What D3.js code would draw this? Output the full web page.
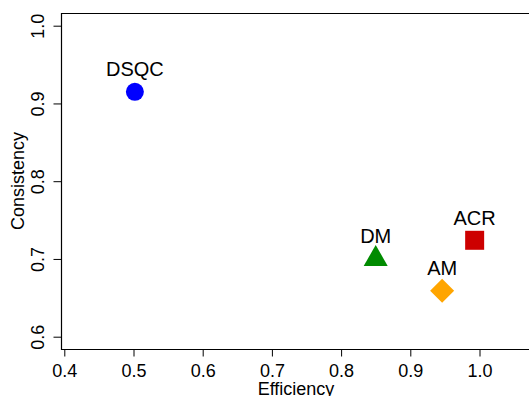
<!DOCTYPE html>
<html>
<head>
<meta charset="utf-8">
<script src="https://cdn.jsdelivr.net/npm/d3@7"></script>
<style>
  body { margin: 0; background: #fff; }
  svg { display: block; font-family: "Liberation Sans", Arial, Helvetica, sans-serif; }
</style>
</head>
<body>
<div id="chart"></div>
<script>
// values
const methods = ["DSQC", "DM", "AM", "ACR"];
const efficiency = [0.502, 0.85, 0.946, 0.993];
const consistency = [0.915, 0.70, 0.659, 0.724];
const colors = ["#0000ff", "#008b00", "#ffa500", "#cd0000"];
const shapes = ["circle", "triangle", "diamond", "square"];
const xTicks = [0.4, 0.5, 0.6, 0.7, 0.8, 0.9, 1.0];
const yTicks = [0.6, 0.7, 0.8, 0.9, 1.0];

const points = methods.map((m, i) => ({
    name: m, x: efficiency[i], y: consistency[i], color: colors[i], shape: shapes[i]
}));

const width = 529, height = 396;
const frame = { left: 61, top: 13, bottom: 349 };

const svg = d3.select("#chart")
    .append("svg")
    .attr("width", width)
    .attr("height", height);

const xScale = d3.scaleLinear().domain([0.4, 1.0]).range([64.3, 479.5]);
const yScale = d3.scaleLinear().domain([0.6, 1.0]).range([336.7, 25.7]);

// plot box (open on the right, it runs off the page)
svg.append("path")
    .attr("d", `M${width},${frame.top + 0.5}H${frame.left + 0.5}V${frame.bottom + 0.5}H${width}`)
    .attr("fill", "none")
    .attr("stroke", "#000")
    .attr("stroke-width", 1.2);

// x axis
const gx = svg.append("g")
    .attr("transform", `translate(0,${frame.bottom + 0.5})`)
    .call(d3.axisBottom(xScale).tickValues(xTicks).tickFormat(d3.format(".1f"))
        .tickSize(7).tickPadding(7.5).tickSizeOuter(0));
gx.select(".domain").remove();
gx.selectAll("text").attr("font-size", "18px").attr("fill", "#000").attr("font-family", null);

// y axis, labels turned like R does
const gy = svg.append("g")
    .attr("transform", `translate(${frame.left + 0.5},0)`)
    .call(d3.axisLeft(yScale).tickValues(yTicks).tickFormat(d3.format(".1f"))
        .tickSize(8).tickSizeOuter(0));
gy.select(".domain").remove();
gy.selectAll("text")
    .attr("x", 0).attr("y", 0).attr("dy", 0)
    .attr("transform", "translate(-18,0) rotate(-90)")
    .attr("text-anchor", "middle")
    .attr("font-size", "18px")
    .attr("fill", "#000")
    .attr("font-family", null);

// axis titles
svg.append("text")
    .attr("x", 296)
    .attr("y", 394.5)
    .attr("text-anchor", "middle")
    .attr("font-size", "18px")
    .text("Efficiency");

svg.append("text")
    .attr("transform", "translate(24,181) rotate(-90)")
    .attr("text-anchor", "middle")
    .attr("font-size", "18px")
    .text("Consistency");

// markers
const symbolOf = {
    circle: d3.symbol(d3.symbolCircle, 254),
    triangle: d3.symbol(d3.symbolTriangle, 250),
    square: d3.symbol(d3.symbolSquare, 361),
    diamond: d3.symbol(d3.symbolSquare, 289)
};

svg.selectAll(".pt")
    .data(points)
    .enter()
    .append("path")
    .attr("class", "pt")
    .attr("d", d => symbolOf[d.shape]())
    .attr("transform", d => `translate(${xScale(d.x)},${yScale(d.y)})` + (d.shape === "diamond" ? " rotate(45)" : ""))
    .attr("fill", d => d.color);

// point labels
svg.selectAll(".lbl")
    .data(points)
    .enter()
    .append("text")
    .attr("class", "lbl")
    .attr("x", d => xScale(d.x))
    .attr("y", d => yScale(d.y) - 15.5)
    .attr("text-anchor", "middle")
    .attr("font-size", "20px")
    .text(d => d.name);
</script>
</body>
</html>
